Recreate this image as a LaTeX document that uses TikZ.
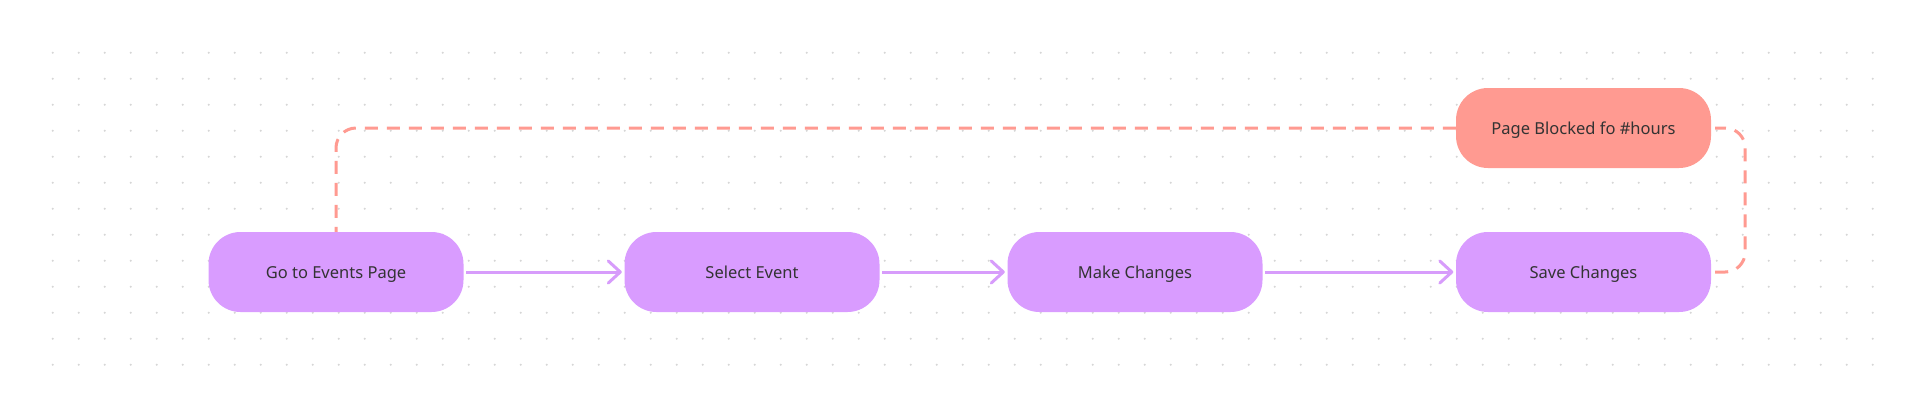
\documentclass[tikz,border=0pt]{standalone}
\usepackage{fontspec}
\setmainfont{Noto Sans}
\usetikzlibrary{arrows.meta}
\definecolor{stepfill}{HTML}{D99CFF}
\definecolor{blockfill}{HTML}{FF9A91}
\definecolor{flowline}{HTML}{D79CFB}
\definecolor{loopline}{HTML}{FF9A91}
\definecolor{griddot}{HTML}{D6D6D6}
\definecolor{labeltext}{HTML}{333333}
\tikzset{
  stepbox/.style={fill=stepfill, rounded corners=32pt, minimum width=255pt, minimum height=80pt,
    text=labeltext, font=\fontsize{16.5}{20}\selectfont, inner sep=0pt,
    text height=14pt, text depth=2pt},
  blockbox/.style={stepbox, fill=blockfill},
  flow/.style={flowline, line width=3pt, shorten <=2.5pt, shorten >=2.5pt,
    -{Straight Barb[length=12pt,width=22pt,line width=3pt,round]}},
  loop/.style={loopline, line width=3pt, dash pattern=on 13pt off 9pt, rounded corners=20pt}
}
\begin{document}
\begin{tikzpicture}[x=1pt, y=-1pt]
  \useasboundingbox (0, 0) rectangle (1920, 400);
  \fill [white] (0, 0) rectangle (1920, 400);
  % dot grid
  \foreach \i in {0,...,70}
    \foreach \j in {0,...,12}
      \fill [griddot] (52.7 + 26*\i, 52.7 + 26*\j) circle (1.1pt);
  % steps
  \node [stepbox] (goto) at (336, 272) {Go to Events Page};
  \node [stepbox] (select) at (752, 272) {Select Event};
  \node [stepbox] (make) at (1135, 272) {Make Changes};
  \node [stepbox] (save) at (1583.5, 272) {Save Changes};
  \node [blockbox] (blocked) at (1583.5, 128) {Page Blocked fo \#hours};
  % main flow
  \draw [flow] (goto) -- (select);
  \draw [flow] (select) -- (make);
  \draw [flow] (make) -- (save);
  % loop back
  \draw [loop] ([xshift=4pt]save.east) -- ++(30, 0) |- ([xshift=4pt]blocked.east);
  \draw [loop] (blocked.west) -| (goto.north);
\end{tikzpicture}
\end{document}
